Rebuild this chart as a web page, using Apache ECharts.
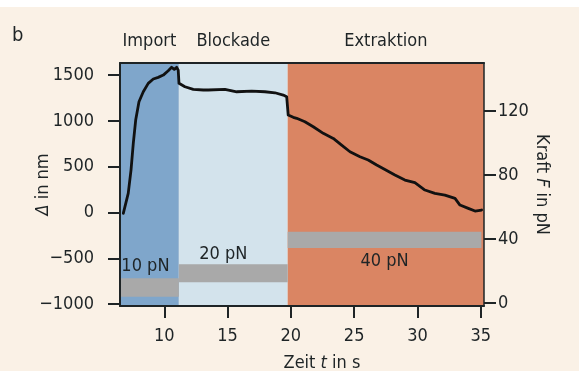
<!DOCTYPE html>
<html>
<head>
<meta charset="utf-8">
<script src="https://cdn.jsdelivr.net/npm/echarts@6/dist/echarts.min.js"></script>
<style>
html,body{margin:0;padding:0;background:#faf1e6;}
#c{width:579px;height:371px;}
</style>
</head>
<body>
<div id="c"></div>
<script>
// ---- data ----
const timeTrace = [6.76,7.15,7.37,7.55,7.74,8.00,8.34,8.73,9.13,9.52,9.92,10.31,10.58,10.79,10.98,11.10,11.16,11.63,12.29,12.42,13.08,13.47,14.79,15.72,16.90,17.95,18.74,19.40,19.67,19.79,20.19,20.46,21.11,21.77,22.56,23.35,24.01,24.67,25.46,26.11,26.78,27.43,28.22,29.01,29.80,30.59,31.38,32.17,32.97,33.36,34.02,34.55,35.07];
const deltaTrace = [-9,209,463,755,1009,1209,1318,1410,1457,1475,1500,1547,1585,1563,1585,1555,1410,1373,1344,1350,1337,1337,1344,1318,1326,1318,1307,1282,1264,1064,1039,1028,991,936,864,809,736,663,609,573,518,470,409,354,325,245,209,190,154,81,45,16,27];

const phaseNames = ['Import','Blockade','Extraktion'];
const phaseStart = [6.5, 11.15, 19.75];
const phaseEnd   = [11.15, 19.75, 35.26];

const forceLabels = ['10 pN','20 pN','40 pN'];
const forceStart = [6.5, 11.15, 19.75];
const forceEnd   = [11.15, 19.75, 35.05];
const forceLow   = [4.0, 13.0, 34.4];
const forceHigh  = [15.6, 24.2, 44.6];

const xTicks = [10,15,20,25,30,35];
const deltaTicks = [-1000,-500,0,500,1000,1500];
const forceTicks = [0,40,80,120];

// ---- styles ----
const FONT = "'Liberation Sans Narrow','DejaVu Sans Condensed','Roboto Condensed','Liberation Sans',sans-serif";
const INK = '#1e2426';
const phaseColors = ['#7fa6cb','#d3e3ec','#da8563'];
const bandColor = '#a9a9a9';
const phaseLabelDist = [13,13,13];
const forceLabelPos = ['top','top','bottom'];
const forceLabelDist = [3,1,4];
const forceLabelOffset = [[-4,0],[-10,0],[0,0]];

const chart = echarts.init(document.getElementById('c'), null, {renderer:'canvas'});

const minus = v => String(v).replace('-', '\u2212');

const option = {
  backgroundColor: '#faf1e6',
  animation: false,
  textStyle: {fontFamily: FONT},
  title: {text:'b', left: 12, top: 26, padding:0, textStyle:{fontFamily: FONT, fontSize: 20, fontWeight:'normal', color: INK}},
  graphic: [{type:'rect', left:0, top:0, shape:{width:579, height:7}, style:{fill:'#ffffff'}, silent:true}],
  grid: {left:120, right:95, top:63, bottom:65, containLabel:false, outerBoundsMode:'none'},
  xAxis: [{
    type:'value', min:6.5, max:35.26, position:'bottom', z:10,
    axisLine:{show:true, onZero:false, lineStyle:{color:INK, width:2}},
    axisTick:{show:true, length:12, customValues:xTicks, lineStyle:{color:INK, width:2}},
    axisLabel:{show:true, customValues:xTicks, margin:21, fontSize:18, color:INK, fontFamily:FONT},
    splitLine:{show:false},
    name:'Zeit {i|t} in s', nameLocation:'middle', nameGap:48, nameMoveOverlap:false,
    nameTextStyle:{fontSize:18, color:INK, fontFamily:FONT, padding:[0,0,0,40], rich:{i:{fontStyle:'italic', fontSize:18, color:INK, fontFamily:FONT}}}
  },{
    type:'value', min:6.5, max:35.26, position:'top', z:10,
    axisLine:{show:true, onZero:false, lineStyle:{color:INK, width:2}},
    axisTick:{show:false}, axisLabel:{show:false}, splitLine:{show:false}
  }],
  yAxis: [{
    type:'value', min:-1021, max:1632, position:'left', z:10,
    axisLine:{show:true, onZero:false, lineStyle:{color:INK, width:2}},
    axisTick:{show:true, length:12, customValues:deltaTicks, lineStyle:{color:INK, width:2}},
    axisLabel:{show:true, customValues:deltaTicks, margin:26, fontSize:18, color:INK, fontFamily:FONT, formatter: minus},
    splitLine:{show:false},
    name:'{i|\u0394} in nm', nameLocation:'middle', nameGap:68, nameRotate:90, nameMoveOverlap:false,
    nameTextStyle:{fontSize:18, color:INK, fontFamily:FONT, rich:{i:{fontStyle:'italic', fontSize:18, color:INK, fontFamily:FONT}}}
  },{
    type:'value', min:-1.8, max:149.9, position:'right', z:10,
    axisLine:{show:true, onZero:false, lineStyle:{color:INK, width:1.5}},
    axisTick:{show:true, length:12, customValues:forceTicks, lineStyle:{color:INK, width:2}},
    axisLabel:{show:true, customValues:forceTicks, margin:14, fontSize:18, color:INK, fontFamily:FONT},
    splitLine:{show:false},
    name:'Kraft {i|F} in pN', nameLocation:'middle', nameGap:49, nameRotate:-90, nameMoveOverlap:false,
    nameTextStyle:{fontSize:18, color:INK, fontFamily:FONT, rich:{i:{fontStyle:'italic', fontSize:18, color:INK, fontFamily:FONT}}}
  }],
  series: [
    {
      type:'line', xAxisIndex:0, yAxisIndex:0, data:[], z:1, silent:true,
      markArea:{
        silent:true,
        data: phaseNames.map((n,i)=>[
          {name:n, xAxis:phaseStart[i], itemStyle:{color:phaseColors[i], opacity:1},
           label:{show:true, position:'top', distance:phaseLabelDist[i], fontSize:18, color:INK, fontFamily:FONT}},
          {xAxis:phaseEnd[i]}
        ])
      }
    },
    {
      type:'line', xAxisIndex:0, yAxisIndex:1, data:[], z:2, silent:true,
      markArea:{
        silent:true,
        data: forceLabels.map((n,i)=>[
          {name:n, coord:[forceStart[i], forceLow[i]], itemStyle:{color:bandColor, opacity:1},
           label:{show:true, position:forceLabelPos[i], distance:forceLabelDist[i], offset:forceLabelOffset[i], fontSize:18, color:INK, fontFamily:FONT}},
          {coord:[forceEnd[i], forceHigh[i]]}
        ])
      }
    },
    {
      type:'line', xAxisIndex:0, yAxisIndex:0, z:3, silent:true,
      data: timeTrace.map((t,i)=>[t, deltaTrace[i]]),
      showSymbol:false, symbol:'none', smooth:false,
      lineStyle:{color:'#111111', width:2.8, join:'round', cap:'round'}
    }
  ]
};
chart.setOption(option);
</script>
</body>
</html>
